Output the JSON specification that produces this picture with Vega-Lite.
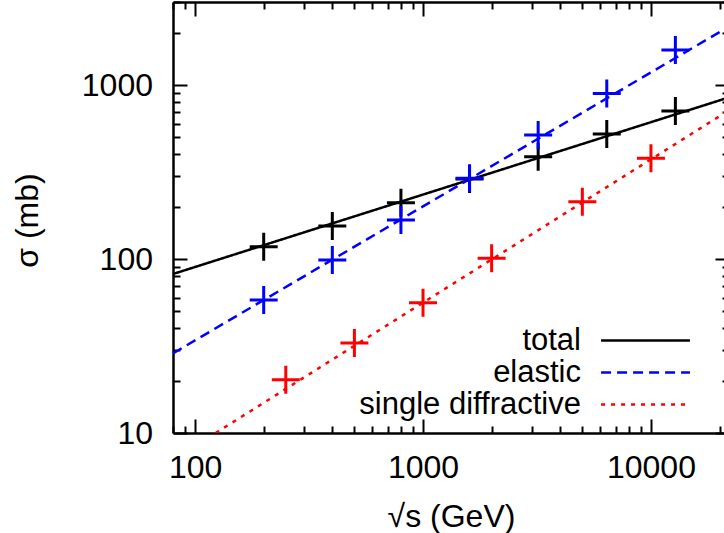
{
  "$schema": "https://vega.github.io/schema/vega-lite/v6.json",
  "autosize": "none",
  "padding": {"left": 173, "top": 2, "right": 0, "bottom": 100},
  "width": 556,
  "height": 431,
  "background": "white",
  "config": {
    "font": "Liberation Sans",
    "view": {"stroke": null},
    "axis": {
      "grid": false,
      "domainColor": "black",
      "domainWidth": 2.5,
      "tickColor": "black",
      "tickWidth": 2,
      "labelFontSize": 32,
      "labelColor": "black",
      "titleFontSize": 32,
      "titleFontWeight": "normal",
      "titleColor": "black"
    }
  },
  "datasets": {
    "lines": [
      {"series": "total", "x": 80, "y": 82},
      {"series": "total", "x": 22000, "y": 849},
      {"series": "elastic", "x": 80, "y": 28.7},
      {"series": "elastic", "x": 22000, "y": 2168},
      {"series": "single diffractive", "x": 123.1, "y": 10},
      {"series": "single diffractive", "x": 22000, "y": 716}
    ],
    "points": [
      {"series": "total", "x": 200, "y": 117.7},
      {"series": "total", "x": 400, "y": 154.8},
      {"series": "total", "x": 800, "y": 210.7},
      {"series": "total", "x": 1600, "y": 288},
      {"series": "total", "x": 3200, "y": 387},
      {"series": "total", "x": 6400, "y": 523},
      {"series": "total", "x": 12800, "y": 709},
      {"series": "elastic", "x": 200, "y": 58.1},
      {"series": "elastic", "x": 400, "y": 98.7},
      {"series": "elastic", "x": 800, "y": 167.6},
      {"series": "elastic", "x": 1600, "y": 291},
      {"series": "elastic", "x": 3200, "y": 516},
      {"series": "elastic", "x": 6400, "y": 895},
      {"series": "elastic", "x": 12800, "y": 1589},
      {"series": "single diffractive", "x": 250, "y": 20.2},
      {"series": "single diffractive", "x": 500, "y": 32.9},
      {"series": "single diffractive", "x": 1000, "y": 56},
      {"series": "single diffractive", "x": 2000, "y": 100.9},
      {"series": "single diffractive", "x": 5000, "y": 213.4},
      {"series": "single diffractive", "x": 10000, "y": 379}
    ]
  },
  "resolve": {"axis": {"x": "independent", "y": "independent"}},
  "layer": [
    {
      "data": {"name": "lines"},
      "mark": {"type": "line", "clip": true, "strokeWidth": 2.5},
      "encoding": {
        "x": {
          "field": "x", "type": "quantitative",
          "scale": {"type": "log", "domain": [80, 22000], "nice": false},
          "axis": {
            "orient": "bottom",
            "title": "√s (GeV)",
            "values": [80, 90, 100, 200, 300, 400, 500, 600, 700, 800, 900, 1000, 2000, 3000, 4000, 5000, 6000, 7000, 8000, 9000, 10000, 20000],
            "labelExpr": "datum.value == 100 || datum.value == 1000 || datum.value == 10000 ? format(datum.value, 'd') : ''",
            "tickSize": {"condition": {"test": "datum.value == 100 || datum.value == 1000 || datum.value == 10000", "value": -14}, "value": -7},
            "labelPadding": 33,
            "labelFlush": false,
            "labelOverlap": false,
            "titleY": 93,
            "titleBaseline": "alphabetic"
          }
        },
        "y": {
          "field": "y", "type": "quantitative",
          "scale": {"type": "log", "domain": [10, 3000], "nice": false},
          "axis": {
            "orient": "left",
            "title": "σ (mb)",
            "values": [10, 20, 30, 40, 50, 60, 70, 80, 90, 100, 200, 300, 400, 500, 600, 700, 800, 900, 1000, 2000, 3000],
            "labelExpr": "datum.value == 10 || datum.value == 100 || datum.value == 1000 ? format(datum.value, 'd') : ''",
            "tickSize": {"condition": {"test": "datum.value == 10 || datum.value == 100 || datum.value == 1000", "value": -14}, "value": -7},
            "labelPadding": 34.5,
            "labelFlush": false,
            "labelOverlap": false,
            "titleX": -146,
            "titleY": 218,
            "titleAngle": -90,
            "titleAlign": "center",
            "titleBaseline": "middle"
          }
        },
        "color": {
          "field": "series", "type": "nominal",
          "scale": {"domain": ["total", "elastic", "single diffractive"], "range": ["#000000", "#0000ff", "#ff0000"]},
          "legend": {
            "title": null,
            "orient": "none",
            "legendX": 457,
            "legendY": 323,
            "labelFontSize": 31,
            "labelLimit": 500,
            "symbolType": "M-10,0H10",
            "symbolSize": 79,
            "symbolStrokeWidth": 2.5,
            "rowPadding": 0,
            "encode": {"labels": {"update": {"x": {"value": -49}, "align": {"value": "right"}}}}
          }
        },
        "strokeDash": {
          "field": "series", "type": "nominal",
          "scale": {"domain": ["total", "elastic", "single diffractive"], "range": [[1, 0], [10, 6], [4, 6]]},
          "legend": {
            "title": null,
            "orient": "none",
            "legendX": 457,
            "legendY": 323,
            "labelFontSize": 31,
            "labelLimit": 500,
            "symbolType": "M-10,0H10",
            "symbolSize": 79,
            "symbolStrokeWidth": 2.5,
            "rowPadding": 0,
            "encode": {"labels": {"update": {"x": {"value": -49}, "align": {"value": "right"}}}}
          }
        }
      }
    },
    {
      "data": {"name": "points"},
      "mark": {"type": "point", "shape": "M-1,0H1M0,-1V1", "size": 784, "strokeWidth": 3, "filled": false, "opacity": 1},
      "encoding": {
        "x": {
          "field": "x", "type": "quantitative",
          "scale": {"type": "log", "domain": [80, 22000], "nice": false},
          "axis": {
            "orient": "top",
            "title": null,
            "labels": false,
            "values": [80, 90, 100, 200, 300, 400, 500, 600, 700, 800, 900, 1000, 2000, 3000, 4000, 5000, 6000, 7000, 8000, 9000, 10000, 20000],
            "tickSize": {"condition": {"test": "datum.value == 100 || datum.value == 1000 || datum.value == 10000", "value": -14}, "value": -7}
          }
        },
        "y": {
          "field": "y", "type": "quantitative",
          "scale": {"type": "log", "domain": [10, 3000], "nice": false},
          "axis": {
            "orient": "right",
            "title": null,
            "labels": false,
            "values": [10, 20, 30, 40, 50, 60, 70, 80, 90, 100, 200, 300, 400, 500, 600, 700, 800, 900, 1000, 2000, 3000],
            "tickSize": {"condition": {"test": "datum.value == 10 || datum.value == 100 || datum.value == 1000", "value": -14}, "value": -7}
          }
        },
        "stroke": {
          "field": "series", "type": "nominal",
          "scale": {"domain": ["total", "elastic", "single diffractive"], "range": ["#000000", "#0000ff", "#ff0000"]},
          "legend": null
        }
      }
    }
  ]
}
